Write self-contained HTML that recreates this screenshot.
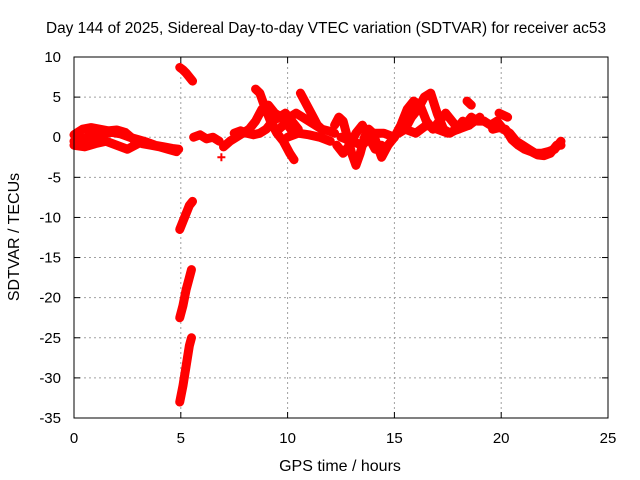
<!DOCTYPE html>
<html><head><meta charset="utf-8"><style>
body{margin:0;background:#fff}
svg{display:block;font-family:"Liberation Sans",sans-serif}
</style></head><body>
<svg id="chart" width="640" height="480" viewBox="0 0 640 480">
<rect width="640" height="480" fill="#fff"/>
<text x="326" y="33" font-size="15.4" text-anchor="middle">Day 144 of 2025, Sidereal Day-to-day VTEC variation (SDTVAR) for receiver ac53</text>
<text x="340" y="471" font-size="16" text-anchor="middle">GPS time / hours</text>
<text x="0" y="0" font-size="16" text-anchor="middle" transform="translate(19,237) rotate(-90)">SDTVAR / TECUs</text>
<g id="grid"></g>
<g id="ticks"></g>
<g id="marks"></g>
<rect x="74" y="57" width="534" height="361" fill="none" stroke="#000" stroke-width="1"/>
</svg>
<script>
const xTicks=[0,5,10,15,20,25];
const yTicks=[-35,-30,-25,-20,-15,-10,-5,0,5,10];
const hours=[
[0,0.3,0.6,1,1.4,1.8,2.2,2.6,3,3.4,3.8,4.2,4.6,4.9],
[0,0.4,0.8,1.2,1.6,2,2.4,2.8,3.2,3.6,4,4.4,4.8],
[0,0.5,1,1.5,2,2.5,3],
[4.95,5.1,5.25,5.4,5.5],
[4.95,5.1,5.25,5.4,5.5],
[4.95,5.1,5.25,5.4,5.55],
[4.95,5.1,5.25,5.4,5.55],
[5.6,5.9,6.2,6.5,6.8],
[6.9],
[7,7.3,7.6,7.9,8.2,8.5,8.8,9.1,9.4,9.7,10,10.3],
[7.5,7.8,8.1,8.4,8.7,9,9.3,9.6,9.9,10.2,10.5],
[8.5,8.7,8.9,9.2,9.5,9.8,10.1,10.3],
[9.5,9.8,10.1,10.4,10.7,11,11.3,11.6,11.9,12.2],
[10.6,10.8,11,11.2,11.4,11.6],
[10,10.5,11,11.5,12],
[12.2,12.4,12.6,12.8,13,13.2,13.4,13.6,13.8,14,14.2,14.4,14.7,15],
[12.3,12.6,12.9,13.2,13.5,13.8,14.1,14.4],
[12.5,13,13.5,14,14.5,15],
[15,15.3,15.6,15.9,16.2,16.5,16.8,17.1,17.4,17.7,18,18.3,18.6,18.9,19.2],
[15.2,15.5,15.8,16.1,16.4,16.7,17,17.3,17.6,17.9,18.2,18.5],
[15.5,16,16.5,17,17.5,18,18.5,19],
[18.4,18.6],
[19.2,19.5,19.8,20.1,20.4,20.7,21,21.3,21.6,21.9,22.2,22.5,22.8],
[19.6,19.9,20.2,20.5,20.8,21.1,21.4,21.7,22,22.3,22.6,22.8],
[19.9,20.3]
];
const sdtvar=[
[-0.5,-0.3,0,0.3,0.5,0.6,0.4,0,-0.3,-0.6,-1,-1.2,-1.4,-1.5],
[0.3,1,1.2,1,0.8,0.9,0.6,-0.3,-0.8,-1,-1.2,-1.5,-1.8],
[-1,-1.2,-0.8,-0.5,-1,-1.5,-0.8],
[-33,-31,-28.5,-26,-25],
[-22.5,-21,-19,-17.5,-16.5],
[-11.5,-10.5,-9.5,-8.5,-8],
[8.7,8.4,8,7.5,7],
[0,0.3,-0.2,0,-0.5],
[-2.5],
[-1.2,-0.5,0,0.5,1,2,3.5,4,3,2.5,1.5,0.5],
[0.5,0.8,0.5,0.3,0.5,1,2,2.5,3,2,1],
[6,5.5,4,2,0.5,-0.5,-2,-2.8],
[0.8,1.5,2.5,3,2.5,2,1.5,1,0.8,0.5],
[5.5,4.5,3.5,2.5,1.5,1],
[0,0.5,0.3,0,-0.5],
[1.5,2.5,2,0,-2,-3.5,-2,0,1,0.5,-1,-2.5,-1,0],
[-1,-2,-1,0.5,1.5,0,-1.5,-1],
[0,-0.5,-1,0.5,0.5,0],
[0,1.5,3.5,4.5,4,2,1,2,3,2,1,1.5,2.5,2,2],
[0.5,1,2.5,3.5,5,5.5,3,1,0.5,1,2,1.5],
[1,0.5,1.5,1,0.5,1,1.5,2.5],
[4.5,4],
[2,1.5,2,1,0.5,-0.5,-1,-1.5,-2,-2,-1.8,-1.5,-0.5],
[1,1.2,1,-0.3,-1,-1.5,-1.8,-2.2,-2.3,-2,-1,-1],
[3,2.5]
];
const NS='http://www.w3.org/2000/svg';
const X0=74,X1=608,Y0=418,Y1=57;
function sx(v){return X0+(v-0)/(25-0)*(X1-X0);}
function sy(v){return Y0-(v+35)/(10+35)*(Y0-Y1);}
function mk(tag,attrs,parent){const e=document.createElementNS(NS,tag);for(const k in attrs)e.setAttribute(k,attrs[k]);parent.appendChild(e);return e;}
const grid=document.getElementById('grid'),ticks=document.getElementById('ticks'),marks=document.getElementById('marks');
xTicks.forEach(t=>{
  const x=sx(t);
  if(t>0&&t<25){const g=mk('line',{x1:x,x2:x,y1:Y1,y2:Y0,stroke:'#a0a0a0','stroke-dasharray':'2,3'},grid);
  
  }
  mk('line',{x1:x,x2:x,y1:Y0,y2:Y0-6,stroke:'#000'},ticks);
  mk('line',{x1:x,x2:x,y1:Y1,y2:Y1+6,stroke:'#000'},ticks);
  const l=mk('text',{x:x,y:Y0+25,'font-size':15,'text-anchor':'middle'},ticks);
  l.textContent=t;
  
  
});
yTicks.forEach(t=>{
  const y=sy(t);
  if(t>-35&&t<10){const g=mk('line',{x1:X0,x2:X1,y1:y,y2:y,stroke:'#a0a0a0','stroke-dasharray':'2,3'},grid);
  
  }
  mk('line',{x1:X0,x2:X0+6,y1:y,y2:y,stroke:'#000'},ticks);
  mk('line',{x1:X1,x2:X1-6,y1:y,y2:y,stroke:'#000'},ticks);
  const l=mk('text',{x:X0-13,y:y+5,'font-size':15,'text-anchor':'end'},ticks);
  l.textContent=t;
  
  
});
hours.forEach((xs,i)=>{
  const ys=sdtvar[i];
  const pts=xs.map((h,j)=>sx(h)+','+sy(ys[j])).join(' ');
  if(xs.length>1){const p=mk('polyline',{points:pts,fill:'none',stroke:'#ff0000','stroke-width':9,'stroke-linejoin':'round','stroke-linecap':'round'},marks);
  
  }
  xs.forEach((h,j)=>{
    const x=sx(h),y=sy(ys[j]);
    const m=mk('path',{d:`M${x-4},${y}H${x+4}M${x},${y-4}V${y+4}`,stroke:'#ff0000','stroke-width':2},marks);
    
    
  });
});
</script>
</body></html>
